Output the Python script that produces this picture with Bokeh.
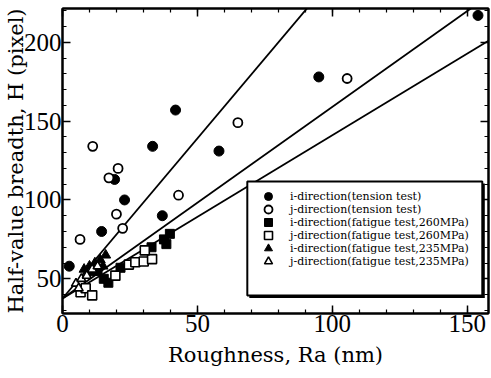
import numpy as np
from bokeh.plotting import figure
from bokeh.models import (Range1d, FixedTicker, LinearAxis, BoxAnnotation,
                          Legend, LegendItem)
from bokeh.embed import file_html
from bokeh.resources import INLINE

# Measured half-value breadth vs surface roughness
i_tension_x = [2.5, 14.5, 19.3, 23.0, 33.4, 37.0, 41.9, 58.0, 95.0, 154.0]
i_tension_y = [58, 80, 113, 100, 134, 90, 157, 131, 178, 217]

j_tension_x = [6.5, 11.2, 17.2, 20.0, 20.6, 22.3, 43.0, 65.0, 105.5]
j_tension_y = [75, 134, 114, 91, 120, 82, 103, 149, 177]

i_fat260_x = [13.0, 15.3, 17.0, 21.5, 33.0, 38.5, 39.8, 37.6]
i_fat260_y = [55, 50, 47.5, 57, 70, 72, 78.5, 75]

j_fat260_x = [6.7, 8.6, 11.0, 19.6, 24.6, 27.0, 30.1, 33.2, 30.5]
j_fat260_y = [41.5, 44, 39.5, 52, 59, 60.5, 61, 62.5, 68]

i_fat235_x = [8.0, 10.0, 12.0, 14.0, 16.0, 15.0, 11.0]
i_fat235_y = [56, 58, 60, 62, 65, 58, 54]

j_fat235_x = [5.0, 7.0, 9.0, 11.0, 13.0, 6.0]
j_fat235_y = [47, 50, 52, 56, 58, 44]

# Linear fits (intercept, slope)
fit_intercepts = [37.5, 37.5, 37.5]
fit_slopes = [2.03, 1.215, 1.035]

labels = [
    "i-direction(tension test)",
    "j-direction(tension test)",
    "i-direction(fatigue test,260MPa)",
    "j-direction(fatigue test,260MPa)",
    "i-direction(fatigue test,235MPa)",
    "j-direction(fatigue test,235MPa)",
]

X_MAX = 157.9
Y_MIN, Y_MAX = 28, 221.4
TICK_FONT = "'Liberation Serif', serif"
TITLE_FONT = "'DejaVu Serif', serif"
LEGEND_FONT = "DejaVu Serif"

p = figure(width=491, height=378, output_backend="svg", toolbar_location=None,
           x_range=Range1d(0, X_MAX), y_range=Range1d(Y_MIN, Y_MAX),
           min_border_left=62, min_border_right=3, min_border_top=8,
           min_border_bottom=65)
p.grid.visible = False
p.outline_line_color = "black"
p.outline_line_width = 2
p.background_fill_color = "white"
p.border_fill_color = "white"

x_ticker = FixedTicker(ticks=[0, 50, 100, 150],
                       minor_ticks=list(range(0, 160, 10)))
y_ticker = FixedTicker(ticks=[50, 100, 150, 200],
                       minor_ticks=list(range(30, 221, 10)))


def style_axis(ax, show_labels):
    ax.axis_line_color = "black"
    ax.axis_line_width = 2
    ax.major_tick_in = 8
    ax.major_tick_out = 0
    ax.minor_tick_in = 4
    ax.minor_tick_out = 0
    ax.major_tick_line_width = 1.5
    ax.minor_tick_line_width = 1.2
    ax.major_tick_line_color = "black"
    ax.minor_tick_line_color = "black"
    if show_labels:
        ax.major_label_text_font = TICK_FONT
        ax.major_label_text_font_size = "25px"
        ax.major_label_text_color = "black"
        ax.major_label_standoff = 1
        ax.axis_label_text_font = TITLE_FONT
        ax.axis_label_text_font_size = "21px"
        ax.axis_label_text_font_style = "normal"
        ax.axis_label_text_color = "black"
    else:
        ax.major_label_overrides = {t: "" for t in ax.ticker.ticks}
        ax.major_label_text_font_size = "1px"
        ax.major_label_standoff = 0


p.xaxis.ticker = x_ticker
p.yaxis.ticker = y_ticker
style_axis(p.xaxis[0], True)
style_axis(p.yaxis[0], True)
p.xaxis.axis_label = "Roughness, Ra (nm)"
p.xaxis.axis_label_standoff = 8
p.yaxis.axis_label = "Half-value breadth, H (pixel)"
p.yaxis.axis_label_standoff = -7

top_axis = LinearAxis(ticker=x_ticker)
right_axis = LinearAxis(ticker=y_ticker)
style_axis(top_axis, False)
style_axis(right_axis, False)
p.add_layout(top_axis, "above")
p.add_layout(right_axis, "right")

# Fit lines across the full x range
line_x = np.array([0.0, X_MAX])
for b, m in zip(fit_intercepts, fit_slopes):
    p.line(line_x, b + m * line_x, line_color="black", line_width=1.8)

size = 9
r1 = p.scatter(i_tension_x, i_tension_y, marker="circle", size=size + 1,
               fill_color="black", line_color="black")
r2 = p.scatter(j_tension_x, j_tension_y, marker="circle", size=size,
               fill_color="white", line_color="black", line_width=1.8)
r3 = p.scatter(i_fat260_x, i_fat260_y, marker="square", size=size,
               fill_color="black", line_color="black")
r4 = p.scatter(j_fat260_x, j_fat260_y, marker="square", size=size,
               fill_color="white", line_color="black", line_width=1.6)
r5 = p.scatter(i_fat235_x, i_fat235_y, marker="triangle", size=size + 1,
               fill_color="black", line_color="black")
r6 = p.scatter(j_fat235_x, j_fat235_y, marker="triangle", size=size,
               fill_color="white", line_color="black", line_width=1.6)

# Legend frame with a drop shadow (box in data units)
px_x = X_MAX / 426.0
px_y = (Y_MAX - Y_MIN) / 305.0
box_l, box_r, box_b, box_t = 68.5, 155.6, 39.4, 111.7
shadow = BoxAnnotation(left=box_l + 2 * px_x, right=box_r + 2.5 * px_x,
                       bottom=box_b - 2.5 * px_y, top=box_t - 2 * px_y,
                       fill_color="black", fill_alpha=1, line_color=None)
frame_box = BoxAnnotation(left=box_l, right=box_r, bottom=box_b, top=box_t,
                          fill_color="white", fill_alpha=1,
                          line_color="black", line_width=2, line_alpha=1)
p.add_layout(shadow)
p.add_layout(frame_box)

# One single-row legend per series so the rows can sit closer together
# than the glyph box height
row_pitch = 13
first_row_center = 117  # px above the frame bottom
for i, (t, r) in enumerate(zip(labels, [r1, r2, r3, r4, r5, r6])):
    lg = Legend(
        items=[LegendItem(label=t, renderers=[r])],
        location=(196, first_row_center - row_pitch * i - 10),
        border_line_color=None, background_fill_alpha=0,
        padding=0, margin=0, spacing=0,
        glyph_width=20, glyph_height=20, label_height=20, label_standoff=12,
        label_text_font=LEGEND_FONT, label_text_font_size="11px",
        label_text_color="black",
    )
    p.add_layout(lg)

open("out.html", "w").write(file_html(p, INLINE))
